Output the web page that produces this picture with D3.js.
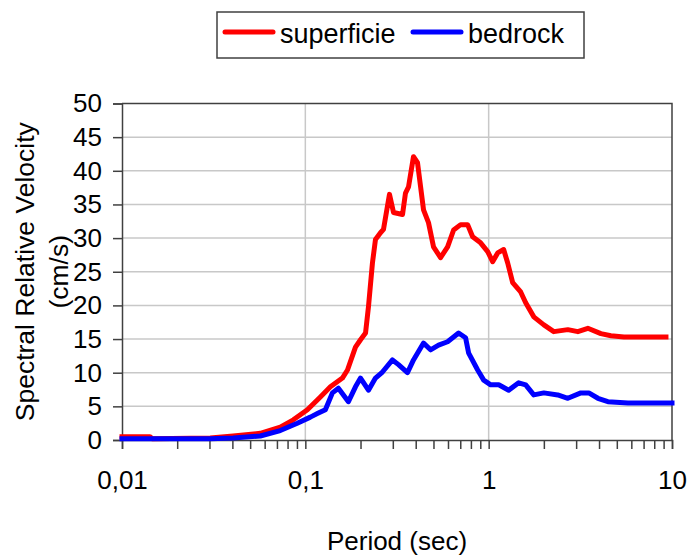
<!DOCTYPE html>
<html>
<head>
<meta charset="utf-8">
<script src="https://cdn.jsdelivr.net/npm/d3@7"></script>
<style>
  html, body { margin: 0; padding: 0; background: #fff; }
  svg { display: block; font-family: "Liberation Sans", Arial, sans-serif; }
</style>
</head>
<body>
<svg id="chart" width="687" height="558"></svg>
<script>
// Response spectrum: period (s) vs spectral relative velocity (cm/s)
const seriesNames = ["superficie", "bedrock"];
const seriesColors = ["#ff0000", "#0000ff"];

const superficiePeriod = [0.01, 0.0142, 0.0146, 0.0303, 0.0404, 0.0568, 0.073, 0.086, 0.1026, 0.1208,
  0.137, 0.1593, 0.1698, 0.1877, 0.2, 0.213, 0.221, 0.2323, 0.2413, 0.257, 0.2669, 0.2877, 0.3027,
  0.3389, 0.3518, 0.3655, 0.389, 0.4092, 0.4413, 0.4697, 0.5002, 0.5465, 0.597, 0.6438, 0.7032,
  0.7678, 0.8175, 0.9036, 0.9876, 1.051, 1.12, 1.207, 1.27, 1.352, 1.495, 1.592, 1.762, 2.0, 2.266,
  2.703, 3.064, 3.475, 4.093, 4.643, 5.469, 9.27];
const superficieVelocity = [0.5, 0.5, 0.2, 0.3, 0.6, 1.0, 1.9, 3.0, 4.5, 6.4,
  7.9, 9.2, 10.4, 13.8, 14.9, 15.9, 19.8, 26.3, 29.8, 30.8, 31.3, 36.5, 33.8,
  33.5, 36.7, 37.6, 42.1, 41.2, 34.2, 32.3, 28.7, 27.1, 28.7, 31.2, 32.0,
  32.0, 30.2, 29.3, 28.0, 26.5, 27.8, 28.3, 26.3, 23.4, 22.0, 20.4, 18.3, 17.1, 16.1,
  16.4, 16.1, 16.6, 15.8, 15.5, 15.3, 15.3];

const bedrockPeriod = [0.01, 0.0303, 0.0404, 0.0568, 0.073, 0.0904, 0.1065, 0.1178, 0.1286, 0.1405,
  0.1515, 0.1718, 0.1877, 0.2, 0.221, 0.2413, 0.2634, 0.2987, 0.3222, 0.3606, 0.389, 0.4413,
  0.4819, 0.533, 0.597, 0.6855, 0.7483, 0.778, 0.871, 0.9397, 1.026, 1.135, 1.286, 1.458, 1.592,
  1.762, 2.0, 2.382, 2.703, 3.184, 3.518, 3.944, 4.47, 5.749, 10];
const bedrockVelocity = [0.2, 0.2, 0.3, 0.6, 1.4, 2.5, 3.4, 4.0, 4.5, 7.0,
  7.7, 5.7, 7.9, 9.2, 7.4, 9.2, 10.1, 11.9, 11.2, 10.0, 11.9, 14.4,
  13.4, 14.1, 14.6, 15.9, 15.2, 12.9, 10.4, 8.9, 8.2, 8.2, 7.4, 8.5, 8.2,
  6.7, 7.0, 6.7, 6.2, 7.0, 7.0, 6.2, 5.7, 5.5, 5.5];

const xTickValues = [0.01, 0.1, 1, 10];
const xTickLabels = ["0,01", "0,1", "1", "10"];
const yTickValues = [0, 5, 10, 15, 20, 25, 30, 35, 40, 45, 50];

const svg = d3.select("#chart");
const plotLeft = 122, plotRight = 672, plotTop = 103.5, plotBottom = 440;

const x = d3.scaleLog().domain([0.01, 10]).range([plotLeft, plotRight]);
const y = d3.scaleLinear().domain([0, 50]).range([plotBottom, plotTop]);

// Grid
const grid = svg.append("g").attr("stroke", "#c8c8c8").attr("stroke-width", 1.5);
grid.selectAll("line.h").data(yTickValues.filter(v => v > 0 && v < 50)).join("line")
  .attr("class", "h")
  .attr("x1", plotLeft).attr("x2", plotRight).attr("y1", d => y(d)).attr("y2", d => y(d));
grid.selectAll("line.v").data(xTickValues.filter(v => v > 0.01 && v < 10)).join("line")
  .attr("class", "v")
  .attr("y1", plotTop).attr("y2", plotBottom).attr("x1", d => x(d)).attr("x2", d => x(d));

// Frame (top and right)
svg.append("path")
  .attr("d", `M${plotLeft},${plotTop}H${plotRight}V${plotBottom}`)
  .attr("fill", "none").attr("stroke", "#404040").attr("stroke-width", 1.5);

// Y axis
const yAxis = svg.append("g").attr("transform", `translate(${plotLeft},0)`)
  .call(d3.axisLeft(y).tickValues(yTickValues).tickSize(9).tickPadding(11).tickFormat(d3.format("d")));
yAxis.select(".domain").attr("stroke", "#404040").attr("stroke-width", 1.5);
yAxis.selectAll(".tick line").attr("stroke", "#404040").attr("stroke-width", 1.5);
yAxis.selectAll("text").attr("font-size", 26).attr("fill", "#000")
  .attr("font-family", "Liberation Sans, Arial, sans-serif");

// X axis (major + minor ticks)
const allTicks = [];
for (let e = -2; e < 1; e++) for (let m = 1; m <= 9; m++) allTicks.push(m * Math.pow(10, e));
allTicks.push(10);
const xAxis = svg.append("g").attr("transform", `translate(0,${plotBottom})`)
  .call(d3.axisBottom(x).tickValues(allTicks).tickSize(9)
    .tickFormat(d => { const i = xTickValues.findIndex(v => Math.abs(v - d) < 1e-9); return i >= 0 ? xTickLabels[i] : ""; })
    .tickPadding(22));
xAxis.select(".domain").attr("stroke", "#404040").attr("stroke-width", 1.5);
xAxis.selectAll(".tick line").attr("stroke", "#404040").attr("stroke-width", 1.5);
xAxis.selectAll("text").attr("font-size", 26).attr("fill", "#000")
  .attr("font-family", "Liberation Sans, Arial, sans-serif");

// Axis titles
svg.append("text").attr("x", (plotLeft + plotRight) / 2).attr("y", 550)
  .attr("text-anchor", "middle").attr("font-size", 26).attr("fill", "#000")
  .text("Period (sec)");
const yt = svg.append("text").attr("transform", `translate(0,${(plotTop + plotBottom) / 2}) rotate(-90)`)
  .attr("text-anchor", "middle").attr("font-size", 26.5).attr("fill", "#000");
yt.append("tspan").attr("x", 0).attr("y", 34).text("Spectral Relative Velocity");
yt.append("tspan").attr("x", 0).attr("y", 68).text("(cm/s)");

// Curves
const line = d3.line().x(d => x(d[0])).y(d => y(d[1]));
const series = [
  d3.zip(superficiePeriod, superficieVelocity),
  d3.zip(bedrockPeriod, bedrockVelocity)
];
svg.append("g").selectAll("path").data(series).join("path")
  .attr("d", line)
  .attr("fill", "none")
  .attr("stroke", (d, i) => seriesColors[i])
  .attr("stroke-width", 5)
  .attr("stroke-linejoin", "round")
  .attr("stroke-linecap", "square");

// Legend
const legend = svg.append("g");
legend.append("rect").attr("x", 217).attr("y", 12).attr("width", 367).attr("height", 46)
  .attr("fill", "#fff").attr("stroke", "#404040").attr("stroke-width", 1.5);
const legendX = [225, 413];
seriesNames.forEach((name, i) => {
  legend.append("line").attr("x1", legendX[i]).attr("x2", legendX[i] + 48)
    .attr("y1", 32).attr("y2", 32).attr("stroke", seriesColors[i]).attr("stroke-width", 5)
    .attr("stroke-linecap", "round");
  legend.append("text").attr("x", legendX[i] + 55).attr("y", 43)
    .attr("font-size", 27).attr("fill", "#000").text(name);
});
</script>
</body>
</html>
